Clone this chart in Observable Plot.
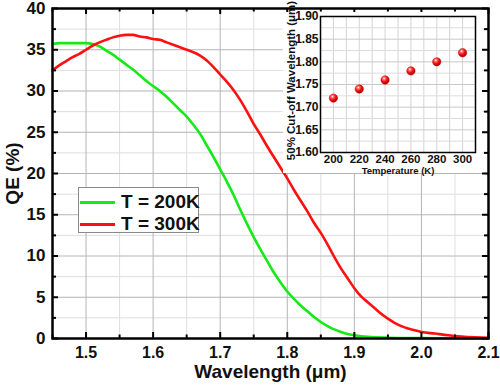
<!DOCTYPE html>
<html>
<head>
<meta charset="utf-8">
<script src="https://cdn.jsdelivr.net/npm/d3@7"></script>
<script src="https://cdn.jsdelivr.net/npm/@observablehq/plot@0.6"></script>
<style>
  body { margin: 0; background: #fff; }
  #wrap { position: relative; width: 500px; height: 388px; font-family: "Liberation Sans", Arial, sans-serif; }
  #main { position: absolute; left: 0; top: 0; }
  #inset { position: absolute; left: 283px; top: 12px; }
  #inset svg { overflow: visible; }
  #legend { position: absolute; left: 78px; top: 187px; width: 119px; height: 44px;
            border: 1px solid #8a8a8a; background: #fff; }
  #legend .row { position: absolute; left: 0; height: 22px; display: flex; align-items: center; }
  #legend .sw { width: 35px; height: 3px; margin-left: 1px; }
  #legend .lab { margin-left: 6px; font-size: 19px; font-weight: bold; color: #111; white-space: nowrap; }
</style>
</head>
<body>
<div id="wrap">
  <div id="main"></div>
  <div id="inset"></div>
  <div id="legend"></div>
</div>
<script>
// ---- Main chart data: QE (%) vs wavelength (µm) ----
const wl200 = [1.45,1.46,1.47,1.48,1.49,1.50,1.51,1.52,1.53,1.54,1.55,1.56,1.57,1.58,1.59,1.60,1.61,1.62,1.63,1.64,1.65,1.66,1.67,1.68,1.69,1.70,1.71,1.72,1.73,1.74,1.75,1.76,1.77,1.78,1.79,1.80,1.81,1.82,1.83,1.84,1.85,1.86,1.87,1.88,1.89,1.90,1.92,1.95,2.00,2.05,2.10];
const qe200 = [35.7,35.8,35.8,35.8,35.8,35.8,35.7,35.4,34.9,34.4,33.8,33.2,32.6,31.9,31.2,30.6,30.0,29.3,28.5,27.7,26.9,25.9,24.8,23.4,22.0,20.5,19.0,17.4,15.6,13.9,12.3,10.8,9.4,8.0,6.8,5.7,4.8,4.0,3.3,2.6,2.0,1.5,1.1,0.8,0.55,0.4,0.2,0.1,0.05,0.02,0.01];

const wl300 = [1.45,1.46,1.47,1.48,1.49,1.50,1.51,1.52,1.53,1.54,1.55,1.56,1.57,1.58,1.59,1.60,1.61,1.62,1.63,1.64,1.65,1.66,1.67,1.68,1.69,1.70,1.71,1.72,1.73,1.74,1.75,1.76,1.77,1.78,1.79,1.80,1.81,1.82,1.83,1.84,1.85,1.86,1.87,1.88,1.89,1.90,1.91,1.92,1.93,1.94,1.95,1.96,1.97,1.98,1.99,2.00,2.02,2.04,2.06,2.08,2.10];
const qe300 = [32.5,33.1,33.6,34.1,34.5,35.0,35.5,35.9,36.2,36.5,36.7,36.8,36.8,36.6,36.5,36.3,36.2,35.9,35.6,35.3,35.0,34.7,34.3,33.7,32.9,32.0,31.1,30.1,28.9,27.5,26.0,24.7,23.3,22.0,20.7,19.4,18.0,16.7,15.4,14.0,12.8,11.4,9.9,8.5,7.3,6.1,5.1,4.4,3.7,3.0,2.4,1.9,1.5,1.2,1.0,0.8,0.6,0.4,0.25,0.15,0.08];

const seriesLabels = ["T = 200K", "T = 300K"];
const seriesColors = ["#16ea16", "#ff1010"];

const xTicks = [1.5, 1.6, 1.7, 1.8, 1.9, 2.0, 2.1];
const xMinor = [1.45, 1.55, 1.65, 1.75, 1.85, 1.95, 2.05];
const yTicks = [0, 5, 10, 15, 20, 25, 30, 35, 40];
const yMinor = [2.5, 7.5, 12.5, 17.5, 22.5, 27.5, 32.5, 37.5];

// ---- Inset data: 50% cut-off wavelength vs temperature ----
const temps = [200, 220, 240, 260, 280, 300];
const cutoff = [1.72, 1.74, 1.76, 1.78, 1.80, 1.82];
const insetXTicks = [200, 220, 240, 260, 280, 300];
const insetXGrid = [190, 200, 210, 220, 230, 240, 250, 260, 270, 280, 290, 300, 310];
const insetYTicks = [1.60, 1.65, 1.70, 1.75, 1.80, 1.85, 1.90];
const insetYMinor = [1.625, 1.675, 1.725, 1.775, 1.825, 1.875];

const FONT = '"Liberation Sans", Arial, sans-serif';

const s200 = wl200.map((x, i) => ({x, y: qe200[i]}));
const s300 = wl300.map((x, i) => ({x, y: qe300[i]}));

const main = Plot.plot({
  width: 500, height: 388,
  marginLeft: 52, marginRight: 12, marginTop: 8, marginBottom: 50,
  x: {domain: [1.45, 2.1]},
  y: {domain: [0, 40]},
  style: {fontFamily: FONT, fontWeight: "bold", color: "#111", background: "transparent"},
  marks: [
    Plot.ruleX(xMinor, {stroke: "#dedede", strokeWidth: 1}),
    Plot.ruleY(yMinor, {stroke: "#dedede", strokeWidth: 1}),
    Plot.ruleX(xTicks, {stroke: "#b4b4b4", strokeWidth: 1}),
    Plot.ruleY(yTicks, {stroke: "#b4b4b4", strokeWidth: 1}),
    Plot.line(s200, {x: "x", y: "y", stroke: seriesColors[0], strokeWidth: 2.6, curve: "monotone-x"}),
    Plot.line(s300, {x: "x", y: "y", stroke: seriesColors[1], strokeWidth: 2.6, curve: "monotone-x"}),
    // inward tick marks on all four sides
    Plot.ruleX(xTicks, {insetTop: 324, stroke: "#000", strokeWidth: 2}),
    Plot.ruleX(xMinor, {insetTop: 326.5, stroke: "#000", strokeWidth: 2}),
    Plot.ruleX(xTicks, {insetBottom: 324, stroke: "#000", strokeWidth: 2}),
    Plot.ruleX(xMinor, {insetBottom: 326.5, stroke: "#000", strokeWidth: 2}),
    Plot.ruleY(yTicks, {insetRight: 430, stroke: "#000", strokeWidth: 2}),
    Plot.ruleY(yMinor, {insetRight: 432, stroke: "#000", strokeWidth: 2}),
    Plot.ruleY(yTicks, {insetLeft: 430, stroke: "#000", strokeWidth: 2}),
    Plot.ruleY(yMinor, {insetLeft: 432, stroke: "#000", strokeWidth: 2}),
    Plot.axisX(xTicks, {tickSize: 0, tickPadding: 8, fontSize: 16, tickFormat: ".1f", label: null}),
    Plot.axisY(yTicks, {tickSize: 0, tickPadding: 7, fontSize: 17, label: null}),
    Plot.text(["Wavelength (μm)"], {frameAnchor: "bottom", lineAnchor: "middle", textAnchor: "middle", dy: 33, fontSize: 19, fontWeight: "bold"}),
    Plot.text(["QE (%)"], {frameAnchor: "left", lineAnchor: "middle", textAnchor: "middle", rotate: -90, dx: -40, fontSize: 19, fontWeight: "bold"}),
    Plot.frame({stroke: "#000", strokeWidth: 2.5})
  ]
});
document.getElementById("main").appendChild(main);

const gradDefs = () => {
  const defs = d3.create("svg:defs");
  const g = defs.append("radialGradient").attr("id", "ballGrad")
    .attr("cx", "38%").attr("cy", "32%").attr("r", "65%");
  g.append("stop").attr("offset", "0%").attr("stop-color", "#ffffff");
  g.append("stop").attr("offset", "25%").attr("stop-color", "#ff6a6a");
  g.append("stop").attr("offset", "60%").attr("stop-color", "#f01010");
  g.append("stop").attr("offset", "100%").attr("stop-color", "#b00000");
  return defs.node();
};

const insetData = temps.map((t, i) => ({t, c: cutoff[i]}));
const inset = Plot.plot({
  width: 199, height: 161,
  marginLeft: 37, marginRight: 7, marginTop: 4, marginBottom: 21,
  x: {domain: [190, 310]},
  y: {domain: [1.60, 1.90]},
  style: {fontFamily: FONT, fontWeight: "bold", color: "#111", background: "#fff", overflow: "visible"},
  marks: [
    gradDefs,
    Plot.ruleX(insetXGrid, {stroke: "#d4d4d4", strokeWidth: 1}),
    Plot.ruleY(insetYMinor, {stroke: "#dcdcdc", strokeWidth: 1}),
    Plot.ruleY(insetYTicks, {stroke: "#c8c8c8", strokeWidth: 1}),
    Plot.dot(insetData, {x: "t", y: "c", r: 4.2, fill: "url(#ballGrad)", stroke: "#d00000", strokeWidth: 0.5}),
    Plot.axisX(insetXTicks, {tickSize: 0, tickPadding: 2, fontSize: 11.5, label: null}),
    Plot.axisY(insetYTicks, {tickSize: 0, tickPadding: 2, fontSize: 12, tickFormat: ".2f", label: null}),
    Plot.text(["Temperature (K)"], {frameAnchor: "bottom", lineAnchor: "middle", textAnchor: "middle", dy: 18, fontSize: 9.5, fontWeight: "bold"}),
    Plot.text(["50% Cut-off Wavelength (μm)"], {frameAnchor: "left", lineAnchor: "middle", textAnchor: "middle", rotate: -90, dx: -29, dy: -4, fontSize: 11.5, fontWeight: "bold"}),
    Plot.frame({stroke: "#000", strokeWidth: 1.5})
  ]
});
document.getElementById("inset").appendChild(inset);

// legend
const legend = document.getElementById("legend");
seriesLabels.forEach((lab, i) => {
  const row = document.createElement("div");
  row.className = "row";
  row.style.top = (3 + i * 22) + "px";
  const sw = document.createElement("div");
  sw.className = "sw";
  sw.style.background = seriesColors[i];
  const tx = document.createElement("span");
  tx.className = "lab";
  tx.textContent = lab;
  row.appendChild(sw); row.appendChild(tx);
  legend.appendChild(row);
});
</script>
</body>
</html>
